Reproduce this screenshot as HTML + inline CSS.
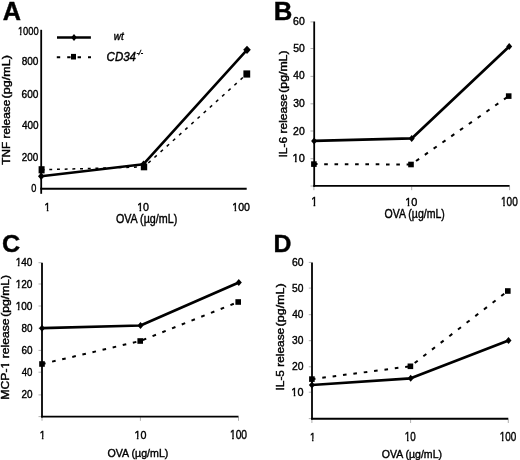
<!DOCTYPE html>
<html><head><meta charset="utf-8"><style>
html,body{margin:0;padding:0;background:#fff;}
svg{display:block;}
text{font-family:"Liberation Sans",sans-serif;stroke:#000;stroke-width:0.4px;}
svg{filter:blur(0.35px);}
</style></head><body>
<svg width="520" height="460" viewBox="0 0 520 460">
<rect width="520" height="460" fill="#fff"/>
<g transform="translate(2.67,19.80) scale(1.0090,1)"><text font-size="25.00" font-weight="bold" fill="#000">A</text></g>
<g transform="translate(17.90,34.90) scale(0.8145,1)"><text font-size="11.46" fill="#000">1000</text><rect x="-0.03" y="-1.86" width="2.46" height="3.46" fill="#fff"/><rect x="4.35" y="-1.86" width="2.37" height="3.46" fill="#fff"/></g>
<g transform="translate(21.67,65.45) scale(0.8794,1)"><text font-size="11.46" fill="#000">800</text></g>
<g transform="translate(21.59,97.95) scale(0.8835,1)"><text font-size="11.46" fill="#000">600</text></g>
<g transform="translate(21.88,129.10) scale(0.8684,1)"><text font-size="11.46" fill="#000">400</text></g>
<g transform="translate(21.71,161.40) scale(0.8615,1)"><text font-size="11.46" fill="#000">200</text></g>
<g transform="translate(31.13,192.40) scale(0.8040,1)"><text font-size="11.46" fill="#000">0</text></g>
<g transform="translate(44.57,210.60) scale(0.9500,1)"><text font-size="10.76" fill="#000">1</text><rect x="-0.08" y="-1.80" width="2.34" height="3.40" fill="#fff"/><rect x="4.11" y="-1.80" width="2.25" height="3.40" fill="#fff"/></g>
<g transform="translate(137.18,210.80) scale(0.9783,1)"><text font-size="10.89" fill="#000">10</text><rect x="-0.07" y="-1.81" width="2.36" height="3.41" fill="#fff"/><rect x="4.15" y="-1.81" width="2.27" height="3.41" fill="#fff"/></g>
<g transform="translate(232.28,210.70) scale(0.9390,1)"><text font-size="11.32" fill="#000">100</text><rect x="-0.04" y="-1.85" width="2.43" height="3.45" fill="#fff"/><rect x="4.30" y="-1.85" width="2.35" height="3.45" fill="#fff"/></g>
<g transform="translate(115.89,223.00) scale(0.8844,1)"><text font-size="12.14" fill="#000">OVA (µg/mL)</text></g>
<g transform="translate(9.80,164.77) rotate(-90) scale(1.1305,1)"><text font-size="10.47">TNF release</text></g>
<g transform="translate(9.80,98.39) rotate(-90) scale(1.2002,1)"><text font-size="10.47">(pg/mL)</text></g>
<line x1="41.2" y1="29.8" x2="41.2" y2="193.8" stroke="#000" stroke-width="1.8"/>
<line x1="40.3" y1="188.7" x2="246.7" y2="188.7" stroke="#000" stroke-width="1.9"/>
<g fill="none" stroke="#000" stroke-width="1.5" stroke-linecap="butt" stroke-linejoin="round"><polyline points="41.60,169.80 44.50,169.72"/><polyline points="49.30,169.58 52.20,169.50"/><polyline points="57.00,169.36 59.89,169.28"/><polyline points="64.69,169.15 67.59,169.06"/><polyline points="72.39,168.93 75.29,168.85"/><polyline points="80.09,168.71 82.99,168.63"/><polyline points="87.79,168.49 90.69,168.41"/><polyline points="95.48,168.27 98.38,168.19"/><polyline points="103.18,168.06 106.08,167.97"/><polyline points="110.88,167.84 113.78,167.76"/><polyline points="118.58,167.62 121.48,167.54"/><polyline points="126.28,167.40 129.18,167.32"/><polyline points="133.97,167.18 136.87,167.10"/><polyline points="141.67,166.97 144.00,166.90 144.46,166.49"/><polyline points="148.29,163.02 150.61,160.93"/><polyline points="154.44,157.46 156.76,155.37"/><polyline points="160.59,151.91 162.91,149.81"/><polyline points="166.74,146.35 169.06,144.25"/><polyline points="172.89,140.79 175.21,138.69"/><polyline points="179.05,135.23 181.36,133.14"/><polyline points="185.20,129.67 187.51,127.58"/><polyline points="191.35,124.11 193.66,122.02"/><polyline points="197.50,118.55 199.81,116.46"/><polyline points="203.65,113.00 205.97,110.90"/><polyline points="209.80,107.44 212.12,105.34"/><polyline points="215.95,101.88 218.27,99.78"/><polyline points="222.10,96.32 224.42,94.23"/><polyline points="228.25,90.76 230.57,88.67"/><polyline points="234.40,85.20 236.72,83.11"/><polyline points="240.55,79.64 242.87,77.55"/><polyline points="246.71,74.09 246.80,74.00"/></g>
<polyline points="41.20,176.20 143.50,164.20 247.00,49.80" fill="none" stroke="#000" stroke-width="2.6" stroke-linejoin="round"/>
<polygon points="41.20,172.40 44.40,176.20 41.20,180.00 38.00,176.20" fill="#000"/>
<polygon points="143.50,160.40 146.70,164.20 143.50,168.00 140.30,164.20" fill="#000"/>
<polygon points="247.00,45.70 250.80,49.80 247.00,53.90 243.20,49.80" fill="#000"/>
<rect x="38.60" y="166.20" width="6.00" height="7.20" fill="#000"/>
<rect x="140.80" y="163.50" width="6.40" height="6.80" fill="#000"/>
<rect x="243.40" y="70.40" width="6.80" height="7.20" fill="#000"/>
<line x1="57" y1="37.5" x2="90.9" y2="37.5" stroke="#000" stroke-width="2.5"/>
<polygon points="74.00,33.90 76.80,37.50 74.00,41.10 71.20,37.50" fill="#000"/>
<line x1="56.8" y1="57.2" x2="91" y2="57.2" stroke="#000" stroke-width="2.1" stroke-dasharray="3.4 7" stroke-dashoffset="0"/>
<rect x="71.00" y="53.90" width="5.00" height="5.60" fill="#000"/>
<g transform="translate(113.70,40.40) scale(0.9300,1)"><text font-size="10.70" font-style="italic" fill="#000">wt</text></g>
<g transform="translate(106.57,60.60) scale(0.9583,1)"><text font-size="12.03" font-style="italic" fill="#000">CD34</text></g>
<g transform="translate(136.44,54.90) scale(0.9592,1)"><text font-size="7.21" font-style="italic" fill="#000">-/-</text></g>
<g transform="translate(273.76,19.90) scale(1.0295,1)"><text font-size="25.00" font-weight="bold" fill="#000">B</text></g>
<g transform="translate(293.08,25.30) scale(0.9611,1)"><text font-size="10.89" fill="#000">60</text></g>
<g transform="translate(293.19,51.90) scale(0.9518,1)"><text font-size="10.89" fill="#000">50</text></g>
<g transform="translate(293.37,79.40) scale(0.9359,1)"><text font-size="10.89" fill="#000">40</text></g>
<g transform="translate(293.21,106.70) scale(0.9495,1)"><text font-size="10.89" fill="#000">30</text></g>
<g transform="translate(293.08,134.60) scale(0.9611,1)"><text font-size="10.89" fill="#000">20</text></g>
<g transform="translate(292.55,162.30) scale(1.0066,1)"><text font-size="10.89" fill="#000">10</text><rect x="-0.07" y="-1.81" width="2.36" height="3.41" fill="#fff"/><rect x="4.15" y="-1.81" width="2.27" height="3.41" fill="#fff"/></g>
<line x1="310.5" y1="186" x2="313.5" y2="186" stroke="#9a9a9a" stroke-width="0.8"/>
<line x1="310.5" y1="158.7" x2="313.5" y2="158.7" stroke="#9a9a9a" stroke-width="0.8"/>
<line x1="310.5" y1="131" x2="313.5" y2="131" stroke="#9a9a9a" stroke-width="0.8"/>
<line x1="310.5" y1="103.8" x2="313.5" y2="103.8" stroke="#9a9a9a" stroke-width="0.8"/>
<line x1="310.5" y1="76.4" x2="313.5" y2="76.4" stroke="#9a9a9a" stroke-width="0.8"/>
<line x1="310.5" y1="48.5" x2="313.5" y2="48.5" stroke="#9a9a9a" stroke-width="0.8"/>
<line x1="310.5" y1="21.9" x2="313.5" y2="21.9" stroke="#9a9a9a" stroke-width="0.8"/>
<line x1="313.9" y1="186.5" x2="313.9" y2="190.2" stroke="#9a9a9a" stroke-width="0.8"/>
<line x1="411.7" y1="186.5" x2="411.7" y2="190.2" stroke="#9a9a9a" stroke-width="0.8"/>
<line x1="509.6" y1="186.5" x2="509.6" y2="190.2" stroke="#9a9a9a" stroke-width="0.8"/>
<line x1="314.2" y1="21.5" x2="314.2" y2="186.8" stroke="#000" stroke-width="1.8"/>
<line x1="313.3" y1="185.9" x2="509.6" y2="185.9" stroke="#000" stroke-width="1.9"/>
<g transform="translate(311.15,205.90) scale(0.9000,1)"><text font-size="12.21" fill="#000">1</text><rect x="0.03" y="-1.91" width="2.59" height="3.51" fill="#fff"/><rect x="4.60" y="-1.91" width="2.49" height="3.51" fill="#fff"/></g>
<g transform="translate(405.25,205.80) scale(0.9329,1)"><text font-size="11.75" fill="#000">10</text><rect x="-0.01" y="-1.88" width="2.51" height="3.48" fill="#fff"/><rect x="4.44" y="-1.88" width="2.42" height="3.48" fill="#fff"/></g>
<g transform="translate(501.03,205.80) scale(0.8444,1)"><text font-size="11.89" fill="#000">100</text><rect x="0.01" y="-1.89" width="2.53" height="3.49" fill="#fff"/><rect x="4.49" y="-1.89" width="2.44" height="3.49" fill="#fff"/></g>
<g transform="translate(384.50,218.00) scale(0.8683,1)"><text font-size="12.14" fill="#000">OVA (µg/mL)</text></g>
<g transform="translate(287.30,157.51) rotate(-90) scale(1.1019,1)"><text font-size="10.90">IL-6 release</text></g>
<g transform="translate(287.30,92.77) rotate(-90) scale(1.1273,1)"><text font-size="10.90">(pg/mL)</text></g>
<g fill="none" stroke="#000" stroke-width="2" stroke-linecap="butt" stroke-linejoin="round"><polyline points="313.90,164.10 317.50,164.11"/><polyline points="324.20,164.14 327.80,164.16"/><polyline points="334.50,164.18 338.10,164.20"/><polyline points="344.80,164.23 348.40,164.24"/><polyline points="355.10,164.27 358.70,164.28"/><polyline points="365.40,164.31 369.00,164.33"/><polyline points="375.70,164.35 379.30,164.37"/><polyline points="386.00,164.40 389.60,164.41"/><polyline points="396.30,164.44 399.90,164.45"/><polyline points="406.60,164.48 410.20,164.50"/><polyline points="416.04,160.97 419.11,158.82"/><polyline points="424.84,154.81 427.91,152.66"/><polyline points="433.63,148.65 436.71,146.50"/><polyline points="442.43,142.49 445.51,140.34"/><polyline points="451.23,136.33 454.31,134.18"/><polyline points="460.03,130.18 463.10,128.02"/><polyline points="468.83,124.02 471.90,121.86"/><polyline points="477.62,117.86 480.70,115.70"/><polyline points="486.42,111.70 489.50,109.54"/><polyline points="495.22,105.54 498.30,103.38"/><polyline points="504.02,99.38 507.09,97.23"/></g>
<polyline points="314.10,140.90 411.70,138.40 509.20,46.50" fill="none" stroke="#000" stroke-width="2.7" stroke-linejoin="round"/>
<polygon points="314.10,137.40 317.10,140.90 314.10,144.40 311.10,140.90" fill="#000"/>
<polygon points="411.70,134.90 414.70,138.40 411.70,141.90 408.70,138.40" fill="#000"/>
<polygon points="509.20,43.00 512.20,46.50 509.20,50.00 506.20,46.50" fill="#000"/>
<rect x="311.10" y="161.30" width="5.60" height="5.60" fill="#000"/>
<rect x="408.20" y="161.70" width="5.60" height="5.60" fill="#000"/>
<rect x="505.90" y="93.30" width="5.60" height="5.60" fill="#000"/>
<g transform="translate(1.99,252.00) scale(1.0529,1)"><text font-size="23.93" font-weight="bold" fill="#000">C</text></g>
<g transform="translate(15.63,266.00) scale(0.9043,1)"><text font-size="11.17" fill="#000">140</text><rect x="-0.05" y="-1.83" width="2.41" height="3.43" fill="#fff"/><rect x="4.25" y="-1.83" width="2.32" height="3.43" fill="#fff"/></g>
<g transform="translate(15.63,287.90) scale(0.9043,1)"><text font-size="11.17" fill="#000">120</text><rect x="-0.05" y="-1.83" width="2.41" height="3.43" fill="#fff"/><rect x="4.25" y="-1.83" width="2.32" height="3.43" fill="#fff"/></g>
<g transform="translate(15.63,310.00) scale(0.9043,1)"><text font-size="11.17" fill="#000">100</text><rect x="-0.05" y="-1.83" width="2.41" height="3.43" fill="#fff"/><rect x="4.25" y="-1.83" width="2.32" height="3.43" fill="#fff"/></g>
<g transform="translate(21.48,331.90) scale(0.8862,1)"><text font-size="11.17" fill="#000">80</text></g>
<g transform="translate(21.40,354.00) scale(0.8927,1)"><text font-size="11.17" fill="#000">60</text></g>
<g transform="translate(21.68,375.60) scale(0.8693,1)"><text font-size="11.17" fill="#000">40</text></g>
<g transform="translate(21.40,398.30) scale(0.8927,1)"><text font-size="11.17" fill="#000">20</text></g>
<line x1="38.5" y1="416.6" x2="41.5" y2="416.6" stroke="#9a9a9a" stroke-width="0.8"/>
<line x1="38.5" y1="394.9" x2="41.5" y2="394.9" stroke="#9a9a9a" stroke-width="0.8"/>
<line x1="38.5" y1="372.2" x2="41.5" y2="372.2" stroke="#9a9a9a" stroke-width="0.8"/>
<line x1="38.5" y1="350.4" x2="41.5" y2="350.4" stroke="#9a9a9a" stroke-width="0.8"/>
<line x1="38.5" y1="328.3" x2="41.5" y2="328.3" stroke="#9a9a9a" stroke-width="0.8"/>
<line x1="38.5" y1="306" x2="41.5" y2="306" stroke="#9a9a9a" stroke-width="0.8"/>
<line x1="38.5" y1="284" x2="41.5" y2="284" stroke="#9a9a9a" stroke-width="0.8"/>
<line x1="38.5" y1="262.7" x2="41.5" y2="262.7" stroke="#9a9a9a" stroke-width="0.8"/>
<line x1="42" y1="417.2" x2="42" y2="420.8" stroke="#9a9a9a" stroke-width="0.8"/>
<line x1="140.4" y1="417.2" x2="140.4" y2="420.8" stroke="#9a9a9a" stroke-width="0.8"/>
<line x1="238.5" y1="417.2" x2="238.5" y2="420.8" stroke="#9a9a9a" stroke-width="0.8"/>
<line x1="42" y1="262.7" x2="42" y2="417.4" stroke="#000" stroke-width="1.8"/>
<line x1="41.1" y1="416.6" x2="238.5" y2="416.6" stroke="#000" stroke-width="1.9"/>
<g transform="translate(39.73,438.70) scale(0.9000,1)"><text font-size="11.05" fill="#000">1</text><rect x="-0.06" y="-1.83" width="2.39" height="3.43" fill="#fff"/><rect x="4.20" y="-1.83" width="2.30" height="3.43" fill="#fff"/></g>
<g transform="translate(134.47,439.00) scale(0.9155,1)"><text font-size="11.75" fill="#000">10</text><rect x="-0.01" y="-1.88" width="2.51" height="3.48" fill="#fff"/><rect x="4.44" y="-1.88" width="2.42" height="3.48" fill="#fff"/></g>
<g transform="translate(229.91,438.90) scale(0.8560,1)"><text font-size="12.03" fill="#000">100</text><rect x="0.02" y="-1.90" width="2.56" height="3.50" fill="#fff"/><rect x="4.54" y="-1.90" width="2.47" height="3.50" fill="#fff"/></g>
<g transform="translate(107.49,456.60) scale(0.9319,1)"><text font-size="11.43" fill="#000">OVA (µg/mL)</text></g>
<g transform="translate(9.40,399.71) rotate(-90) scale(1.1670,1)"><text font-size="10.47">MCP-1 release</text><rect x="26.64" y="-1.78" width="2.28" height="3.38" fill="#fff"/><rect x="30.75" y="-1.78" width="2.20" height="3.38" fill="#fff"/></g>
<g transform="translate(9.40,316.76) rotate(-90) scale(1.1628,1)"><text font-size="10.47">(pg/mL)</text></g>
<g fill="none" stroke="#000" stroke-width="2" stroke-linecap="butt" stroke-linejoin="round"><polyline points="42.00,364.00 45.53,363.17"/><polyline points="52.09,361.64 55.62,360.81"/><polyline points="62.19,359.27 65.71,358.45"/><polyline points="72.28,356.91 75.81,356.08"/><polyline points="82.37,354.54 85.90,353.72"/><polyline points="92.46,352.18 95.99,351.35"/><polyline points="102.56,349.82 106.08,348.99"/><polyline points="112.65,347.45 116.18,346.63"/><polyline points="122.74,345.09 126.27,344.26"/><polyline points="132.84,342.72 136.36,341.90"/><polyline points="142.83,339.95 146.23,338.60"/><polyline points="152.56,336.08 155.97,334.73"/><polyline points="162.30,332.21 165.70,330.85"/><polyline points="172.03,328.33 175.43,326.98"/><polyline points="181.77,324.46 185.17,323.10"/><polyline points="191.50,320.58 194.90,319.23"/><polyline points="201.23,316.71 204.64,315.36"/><polyline points="210.97,312.84 214.37,311.48"/><polyline points="220.70,308.96 224.10,307.61"/><polyline points="230.43,305.09 233.84,303.74"/></g>
<polyline points="42.00,328.20 140.50,325.50 238.80,282.50" fill="none" stroke="#000" stroke-width="2.7" stroke-linejoin="round"/>
<polygon points="42.00,324.70 45.00,328.20 42.00,331.70 39.00,328.20" fill="#000"/>
<polygon points="140.50,322.00 143.50,325.50 140.50,329.00 137.50,325.50" fill="#000"/>
<polygon points="238.80,279.00 241.80,282.50 238.80,286.00 235.80,282.50" fill="#000"/>
<rect x="39.20" y="361.20" width="5.60" height="5.60" fill="#000"/>
<rect x="137.40" y="338.20" width="5.60" height="5.60" fill="#000"/>
<rect x="235.40" y="299.20" width="5.60" height="5.60" fill="#000"/>
<g transform="translate(273.52,251.60) scale(1.0043,1)"><text font-size="24.71" font-weight="bold" fill="#000">D</text></g>
<g transform="translate(291.88,265.70) scale(0.8824,1)"><text font-size="11.75" fill="#000">60</text></g>
<g transform="translate(291.99,292.10) scale(0.8739,1)"><text font-size="11.75" fill="#000">50</text></g>
<g transform="translate(292.17,318.30) scale(0.8593,1)"><text font-size="11.75" fill="#000">40</text></g>
<g transform="translate(292.02,343.60) scale(0.8718,1)"><text font-size="11.75" fill="#000">30</text></g>
<g transform="translate(291.88,370.00) scale(0.8824,1)"><text font-size="11.75" fill="#000">20</text></g>
<g transform="translate(291.36,395.90) scale(0.9242,1)"><text font-size="11.75" fill="#000">10</text><rect x="-0.01" y="-1.88" width="2.51" height="3.48" fill="#fff"/><rect x="4.44" y="-1.88" width="2.42" height="3.48" fill="#fff"/></g>
<line x1="308.8" y1="418.6" x2="311.3" y2="418.6" stroke="#9a9a9a" stroke-width="0.8"/>
<line x1="308.8" y1="392.2" x2="311.3" y2="392.2" stroke="#9a9a9a" stroke-width="0.8"/>
<line x1="308.8" y1="366.8" x2="311.3" y2="366.8" stroke="#9a9a9a" stroke-width="0.8"/>
<line x1="308.8" y1="340.7" x2="311.3" y2="340.7" stroke="#9a9a9a" stroke-width="0.8"/>
<line x1="308.8" y1="314.7" x2="311.3" y2="314.7" stroke="#9a9a9a" stroke-width="0.8"/>
<line x1="308.8" y1="288.1" x2="311.3" y2="288.1" stroke="#9a9a9a" stroke-width="0.8"/>
<line x1="308.8" y1="262.4" x2="311.3" y2="262.4" stroke="#9a9a9a" stroke-width="0.8"/>
<line x1="311.9" y1="419.4" x2="311.9" y2="423" stroke="#9a9a9a" stroke-width="0.8"/>
<line x1="410.6" y1="419.4" x2="410.6" y2="423" stroke="#9a9a9a" stroke-width="0.8"/>
<line x1="508.3" y1="419.4" x2="508.3" y2="423" stroke="#9a9a9a" stroke-width="0.8"/>
<line x1="312" y1="262.4" x2="312" y2="419.6" stroke="#000" stroke-width="1.8"/>
<line x1="311.1" y1="418.8" x2="508.3" y2="418.8" stroke="#000" stroke-width="1.9"/>
<g transform="translate(309.90,440.50) scale(0.8500,1)"><text font-size="11.34" fill="#000">1</text><rect x="-0.04" y="-1.85" width="2.44" height="3.45" fill="#fff"/><rect x="4.30" y="-1.85" width="2.35" height="3.45" fill="#fff"/></g>
<g transform="translate(404.85,440.90) scale(0.8269,1)"><text font-size="11.89" fill="#000">10</text><rect x="0.01" y="-1.89" width="2.53" height="3.49" fill="#fff"/><rect x="4.49" y="-1.89" width="2.44" height="3.49" fill="#fff"/></g>
<g transform="translate(499.75,440.80) scale(0.8235,1)"><text font-size="12.03" fill="#000">100</text><rect x="0.02" y="-1.90" width="2.56" height="3.50" fill="#fff"/><rect x="4.54" y="-1.90" width="2.47" height="3.50" fill="#fff"/></g>
<g transform="translate(381.70,457.50) scale(0.9225,1)"><text font-size="11.43" fill="#000">OVA (µg/mL)</text></g>
<g transform="translate(284.40,390.50) rotate(-90) scale(1.1366,1)"><text font-size="10.47">IL-5 release</text></g>
<g transform="translate(284.40,326.38) rotate(-90) scale(1.1944,1)"><text font-size="10.47">(pg/mL)</text></g>
<g fill="none" stroke="#000" stroke-width="2" stroke-linecap="butt" stroke-linejoin="round"><polyline points="311.90,379.10 315.48,378.64"/><polyline points="322.26,377.75 325.84,377.29"/><polyline points="332.63,376.41 336.21,375.94"/><polyline points="342.99,375.06 346.57,374.59"/><polyline points="353.36,373.71 356.93,373.25"/><polyline points="363.72,372.37 367.30,371.90"/><polyline points="374.08,371.02 377.66,370.55"/><polyline points="384.45,369.67 388.03,369.21"/><polyline points="394.81,368.33 398.39,367.86"/><polyline points="405.18,366.98 408.75,366.51"/><polyline points="414.69,362.98 417.68,360.67"/><polyline points="423.35,356.29 426.34,353.98"/><polyline points="432.00,349.60 434.99,347.29"/><polyline points="440.66,342.91 443.65,340.60"/><polyline points="449.32,336.21 452.30,333.90"/><polyline points="457.97,329.52 460.96,327.21"/><polyline points="466.63,322.83 469.62,320.52"/><polyline points="475.28,316.14 478.27,313.83"/><polyline points="483.94,309.45 486.93,307.14"/><polyline points="492.60,302.75 495.58,300.44"/><polyline points="501.25,296.06 504.24,293.75"/></g>
<polyline points="311.90,385.00 410.70,378.30 508.50,340.50" fill="none" stroke="#000" stroke-width="2.7" stroke-linejoin="round"/>
<polygon points="311.90,381.50 314.90,385.00 311.90,388.50 308.90,385.00" fill="#000"/>
<polygon points="410.70,374.80 413.70,378.30 410.70,381.80 407.70,378.30" fill="#000"/>
<polygon points="508.50,337.00 511.50,340.50 508.50,344.00 505.50,340.50" fill="#000"/>
<rect x="309.10" y="376.30" width="5.60" height="5.60" fill="#000"/>
<rect x="407.60" y="363.50" width="5.60" height="5.60" fill="#000"/>
<rect x="505.00" y="288.20" width="5.60" height="5.60" fill="#000"/>
</svg>
</body></html>
